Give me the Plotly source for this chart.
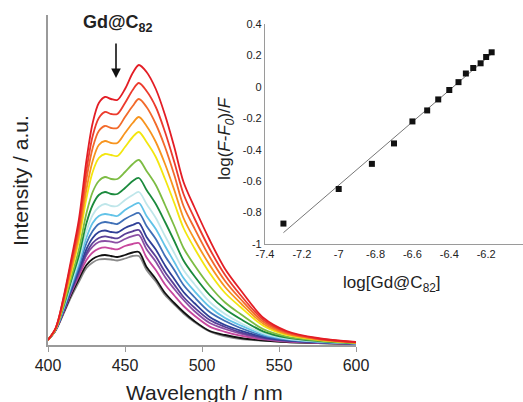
import numpy as np
import plotly.graph_objects as go

# ---------------- main spectra data ----------------
wavelength = [400, 405, 410, 415, 420, 425, 429, 433, 437, 441, 445, 450, 455, 459,
              464, 470, 476, 482, 488, 495, 505, 515, 525, 540, 555, 575, 600]

red_1 = [5, 17, 47, 85, 125, 185, 222, 242, 248, 246, 245, 256, 272, 280, 273, 256, 230, 198, 163, 138, 105, 76, 55, 27, 14, 7, 3]
red_2 = [5, 17, 46, 82, 119, 175, 209, 227, 233, 231, 231, 242, 255, 262, 254, 238, 213, 183, 151, 127, 96, 70, 50, 25, 13, 6.5, 2.8]
orange_red = [5, 17, 44, 79, 114, 166, 197, 214, 219, 217, 217, 228, 239, 246, 238, 221, 198, 170, 139, 117, 88, 64, 46, 23, 12, 6, 2.6]
orange = [5, 16, 43, 75, 109, 156, 184, 200, 204, 202, 202, 212, 222, 228, 219, 203, 181, 155, 127, 106, 80, 58, 42, 21, 11, 5.6, 2.4]
yellow = [5, 16, 42, 72, 104, 147, 173, 187, 191, 190, 189, 198, 208, 213, 203, 188, 166, 142, 117, 97, 72, 52, 38, 19, 10, 5.2, 2.3]
light_green = [5, 16, 39, 67, 95, 132, 153, 164, 168, 166, 166, 173, 181, 185, 174, 160, 140, 119, 97, 80, 59, 42.5, 31, 15.6, 8.4, 4.5, 2]
dark_green = [5, 16, 38, 64, 89, 122, 140, 150, 153, 151, 151, 157, 164, 167, 155, 141, 123, 104, 84.5, 69, 50, 36, 26, 13.4, 7.4, 4, 1.8]
pale_cyan = [5, 16, 37, 61, 85, 114, 130, 138, 141, 139, 139, 145, 150, 153, 141, 127, 109, 92, 75, 61, 43, 31, 22, 11.7, 6.5, 3.6, 1.6]
sky_blue = [5, 15.5, 36, 59, 81.5, 107.5, 122, 129, 131, 130, 129, 135, 139.5, 142, 129, 116, 99, 83, 67, 54, 38, 27, 19.6, 10.4, 5.9, 3.3, 1.5]
blue = [5, 15.4, 35, 57, 78, 102, 114, 121, 123, 122, 121, 126, 130, 132, 119, 106, 89, 75, 60, 48, 33, 24, 17, 9.2, 5.3, 3, 1.4]
dark_blue = [5, 15.3, 34, 55, 75, 96, 107, 113, 114.5, 113, 112.5, 117, 120, 122, 108, 95.5, 79.6, 66, 53, 42, 28, 20, 14.4, 8, 4.7, 2.8, 1.3]
indigo = [5, 15.2, 34, 54, 73, 92, 102, 107, 108.6, 107.5, 106.6, 111, 113.7, 115, 101, 88.4, 73, 60.4, 48, 37.5, 25, 18, 12.7, 7.2, 4.3, 2.6, 1.2]
purple = [5, 15.2, 33.4, 53, 71, 90, 98.4, 103, 104, 103.3, 102.4, 106, 108.8, 110, 95.7, 83.3, 68, 56, 45, 34, 22, 16, 11.4, 6.5, 4, 2.5, 1.2]
magenta = [5, 15.1, 32.7, 52, 69, 85, 92.5, 96.3, 97.6, 96.5, 95.6, 99, 101, 102, 87.4, 75, 60.5, 49.5, 39, 29.5, 18.4, 13.2, 9.3, 5.6, 3.5, 2.2, 1.1]
black = [5, 15, 32, 50, 66, 80, 86, 89, 90, 89, 88, 90, 92.5, 93, 78, 66, 52, 42, 33, 24, 14, 10, 7, 4.5, 3, 2, 1]
gray = [5, 14.5, 31, 48, 63, 77, 82.5, 85.5, 86, 85.5, 84.5, 86.5, 89, 89, 75, 63.5, 50, 40.5, 31.5, 23, 13.5, 8.6, 5.8, 4.3, 2.9, 1.9, 1]

spectra = [gray, black, magenta, purple, indigo, dark_blue, blue, sky_blue,
           pale_cyan, dark_green, light_green, yellow, orange, orange_red, red_2, red_1]
spectra_colors = ['#8a8a8a', '#111111', '#c8479d', '#8b4fa4', '#5a3f97', '#2f3f96',
                  '#3f70b7', '#62c3e8', '#bfe6ea', '#1b8a3d', '#7dbc43', '#f3e60f',
                  '#f7941e', '#f26a2b', '#ec3b2d', '#e31d25']

x_ticks = [400, 450, 500, 550, 600]

# ---------------- inset data ----------------
log_conc = [-7.3, -7.0, -6.82, -6.7, -6.6, -6.52, -6.46, -6.4, -6.35, -6.31,
            -6.27, -6.23, -6.2, -6.17]
log_ratio = [-0.87, -0.65, -0.49, -0.36, -0.22, -0.15, -0.08, -0.02, 0.03,
             0.085, 0.12, 0.15, 0.19, 0.22]
inset_xticks = [-7.4, -7.2, -7.0, -6.8, -6.6, -6.4, -6.2, -6.0]
inset_xticktext = ['-7.4', '-7.2', '-7', '-6.8', '-6.6', '-6.4', '-6.2', '-6']
inset_yticks = [0.4, 0.2, 0, -0.2, -0.4, -0.6, -0.8, -1]
inset_yticktext = ['0.4', '0.2', '0', '-0.2', '-0.4', '-0.6', '-0.8', '-1']

FONT = 'Liberation Sans, Arial, sans-serif'
W, H = 523, 402

fig = go.Figure()

for ys, col in zip(spectra, spectra_colors):
    fig.add_trace(go.Scatter(x=wavelength, y=ys, mode='lines',
                             line=dict(color=col, width=1.8, shape='spline', smoothing=0.9),
                             xaxis='x', yaxis='y', showlegend=False, hoverinfo='skip'))

# fit line for inset
slope, intercept = np.polyfit(log_conc, log_ratio, 1)
fit_x = [min(log_conc), max(log_conc)]
fit_y = [slope * v + intercept for v in fit_x]
fig.add_trace(go.Scatter(x=fit_x, y=fit_y, mode='lines',
                         line=dict(color='#777777', width=1),
                         xaxis='x2', yaxis='y2', showlegend=False))
fig.add_trace(go.Scatter(x=log_conc, y=log_ratio, mode='markers',
                         marker=dict(symbol='square', size=6, color='#111111'),
                         xaxis='x2', yaxis='y2', showlegend=False))


def px_x(p):
    return p / W


def px_y(p):
    return (H - p) / H


def label(text, x, y, size, angle=0):
    return dict(text=text, textangle=angle, x=px_x(x), y=px_y(y), xref='paper',
                yref='paper', xanchor='center', yanchor='middle', showarrow=False,
                font=dict(size=size, color='#222222', family=FONT))


fig.update_layout(
    width=W, height=H,
    margin=dict(l=0, r=0, t=0, b=0, autoexpand=False),
    paper_bgcolor='white', plot_bgcolor='rgba(0,0,0,0)',
    font=dict(family=FONT, color='#222222'),
    xaxis=dict(domain=[px_x(48), px_x(356)], range=[400, 600], tickvals=x_ticks,
               showgrid=False, zeroline=False, showline=True, linecolor='#9a9a9a',
               linewidth=1.5, ticks='outside', ticklen=5, tickcolor='#9a9a9a',
               tickwidth=1.2, tickfont=dict(size=16, color='#222222', family=FONT),
               anchor='y', automargin=False),
    yaxis=dict(domain=[px_y(345), px_y(15)], range=[0, 330], showgrid=False,
               zeroline=False, showline=True, linecolor='#9a9a9a', linewidth=1.5,
               showticklabels=False, ticks='', anchor='x', automargin=False),
    xaxis2=dict(domain=[px_x(265), 1.0], range=[-7.4, -6.0], tickvals=inset_xticks,
                ticktext=inset_xticktext, showgrid=False, zeroline=False,
                showline=True, linecolor='#9a9a9a', linewidth=1.2, ticks='',
                tickfont=dict(size=11, color='#222222', family=FONT), anchor='y2',
                automargin=False),
    yaxis2=dict(domain=[px_y(244), px_y(24)], range=[-1, 0.4], tickvals=inset_yticks,
                ticktext=inset_yticktext, showgrid=False, zeroline=False,
                showline=True, linecolor='#9a9a9a', linewidth=1.2, ticks='',
                tickfont=dict(size=11, color='#222222', family=FONT), anchor='x2',
                automargin=False),
    annotations=[
        label('Intensity / a.u.', 20, 181, 21, -90),
        label('Wavelength / nm', 204, 392, 21),
        label('<b>Gd@C<sub>82</sub></b>', 118, 24, 18),
        dict(text='', x=px_x(116), y=px_y(78), xref='paper', yref='paper',
             showarrow=True, ax=0, ay=-36, arrowhead=2, arrowsize=1.2,
             arrowwidth=1.6, arrowcolor='#111111'),
        label('log(<i>F</i>-<i>F</i><sub><i>0</i></sub>)/<i>F</i>', 226, 138, 17, -90),
        label('log[Gd@C<sub>82</sub>]', 392, 284, 17),
    ],
)

fig.write_html('out.html', config={'displayModeBar': False},
               post_script="document.body.style.margin='0';document.body.style.padding='0';")
